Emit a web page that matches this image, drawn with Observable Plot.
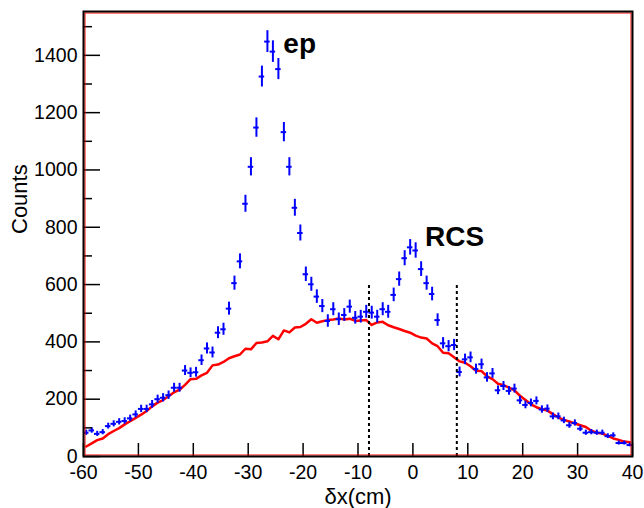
<!DOCTYPE html>
<html><head><meta charset="utf-8">
<script src="https://cdn.jsdelivr.net/npm/d3@7"></script>
<script src="https://cdn.jsdelivr.net/npm/@observablehq/plot@0.6"></script>
<style>body{margin:0;background:#fff}</style>
</head><body><div id="chart"></div>
<script>
// bin centers of δx (cm), 1 cm bins from -60 to 40
const binCenters = d3.range(-59.5, 40, 1);
// measured counts (blue points with sqrt(N) error bars)
const counts = [
  83, 91, 79, 85, 106, 114, 121, 124, 133, 147,
  166, 166, 182, 200, 205, 214, 240, 240, 300, 292,
  294, 336, 377, 363, 432, 444, 516, 605, 681, 882,
  1011, 1148, 1326, 1448, 1413, 1352, 1132, 1011, 868, 780,
  636, 601, 558, 525, 473, 514, 479, 494, 523, 484,
  488, 505, 502, 488, 514, 505, 564, 619, 692, 730,
  719, 654, 605, 567, 476, 395, 385, 389, 295, 339,
  346, 305, 322, 276, 290, 231, 246, 229, 237, 196,
  180, 187, 194, 164, 167, 140, 140, 126, 109, 117,
  97, 83, 85, 83, 83, 71, 74, 47, 47, 40
];
// red background curve
const background = [
  35, 46, 57, 63, 78, 89, 99, 112, 123, 135,
  146, 159, 175, 188, 197, 210, 224, 233, 250, 270,
  271, 283, 292, 318, 321, 330, 343, 350, 356, 376,
  374, 396, 398, 402, 421, 409, 440, 433, 450, 452,
  463, 479, 467, 472, 476, 478, 482, 478, 481, 473,
  475, 476, 459, 468, 470, 458, 451, 445, 438, 432,
  422, 415, 412, 395, 385, 362, 360, 346, 332, 327,
  315, 299, 298, 280, 270, 254, 249, 240, 231, 212,
  197, 182, 172, 165, 160, 148, 136, 128, 122, 115,
  109, 103, 90, 83, 80, 72, 63, 58, 52, 50
];
const cutX = [-8, 8];
const cutTop = 600;
const xTicks = [-60, -50, -40, -30, -20, -10, 0, 10, 20, 30, 40];
const yTicks = [0, 200, 400, 600, 800, 1000, 1200, 1400];
const yMinor = [100, 300, 500, 700, 900, 1100, 1300, 1500];
const labels = [
  {text: "ep", x: -23.6, y: 1407},
  {text: "RCS", x: 2.2, y: 736}
];

const rows = binCenters.map((x, i) => ({x, n: counts[i], bg: background[i]}));
const blue = "#0000ff";

const chart = Plot.plot({
  width: 644,
  height: 508,
  marginLeft: 83,
  marginRight: 12,
  marginTop: 11,
  marginBottom: 52,
  style: {fontFamily: "'Liberation Sans', Arial, sans-serif", fontSize: "19.5px", background: "#fff"},
  x: {domain: [-60, 40]},
  y: {domain: [0, 1553]},
  marks: [
    Plot.line(rows, {x: "x", y: "bg", stroke: "red", strokeWidth: 2.5}),
    Plot.ruleX(rows, {x: "x", y1: d => d.n - Math.sqrt(d.n), y2: d => d.n + Math.sqrt(d.n), stroke: blue, strokeWidth: 2}),
    Plot.ruleY(rows, {y: "n", x1: d => d.x - 0.5, x2: d => d.x + 0.5, stroke: blue, strokeWidth: 2}),
    Plot.ruleX(cutX, {x: d => d, y1: 0, y2: cutTop, stroke: "black", strokeWidth: 2, strokeDasharray: "3,3"}),
    Plot.text(labels, {x: "x", y: "y", text: "text", textAnchor: "start", lineAnchor: "bottom", fontSize: 28, fontWeight: "bold", fill: "black"}),
    // axes
    Plot.axisY({ticks: yTicks, tickSize: 0, tickPadding: 6, tickFormat: d => String(d), label: null, fontSize: 19.5}),
    Plot.axisY({ticks: yTicks, tickSize: -17, tickFormat: () => "", label: null, strokeWidth: 1.5}),
    Plot.axisY({ticks: yMinor, tickSize: -9, tickFormat: () => "", label: null, strokeWidth: 1.5}),
    Plot.axisX({ticks: xTicks, tickSize: 0, tickPadding: 8.5, tickFormat: d => String(d), label: null, fontSize: 19.5}),
    Plot.axisX({ticks: xTicks, tickSize: -13, tickFormat: () => "", label: null, strokeWidth: 1.5}),
    Plot.text(["Counts"], {frameAnchor: "left", rotate: -90, dx: -63.5, lineAnchor: "middle", fontSize: 22, fill: "black"}),
    Plot.text(["δx(cm)"], {frameAnchor: "bottom", dy: 47, lineAnchor: "bottom", fontSize: 22, fill: "black"}),
    Plot.frame({stroke: "red", strokeWidth: 1, inset: 1.5}),
    Plot.frame({stroke: "black", strokeWidth: 2})
  ]
});
document.getElementById("chart").append(chart);
</script>
</body></html>
